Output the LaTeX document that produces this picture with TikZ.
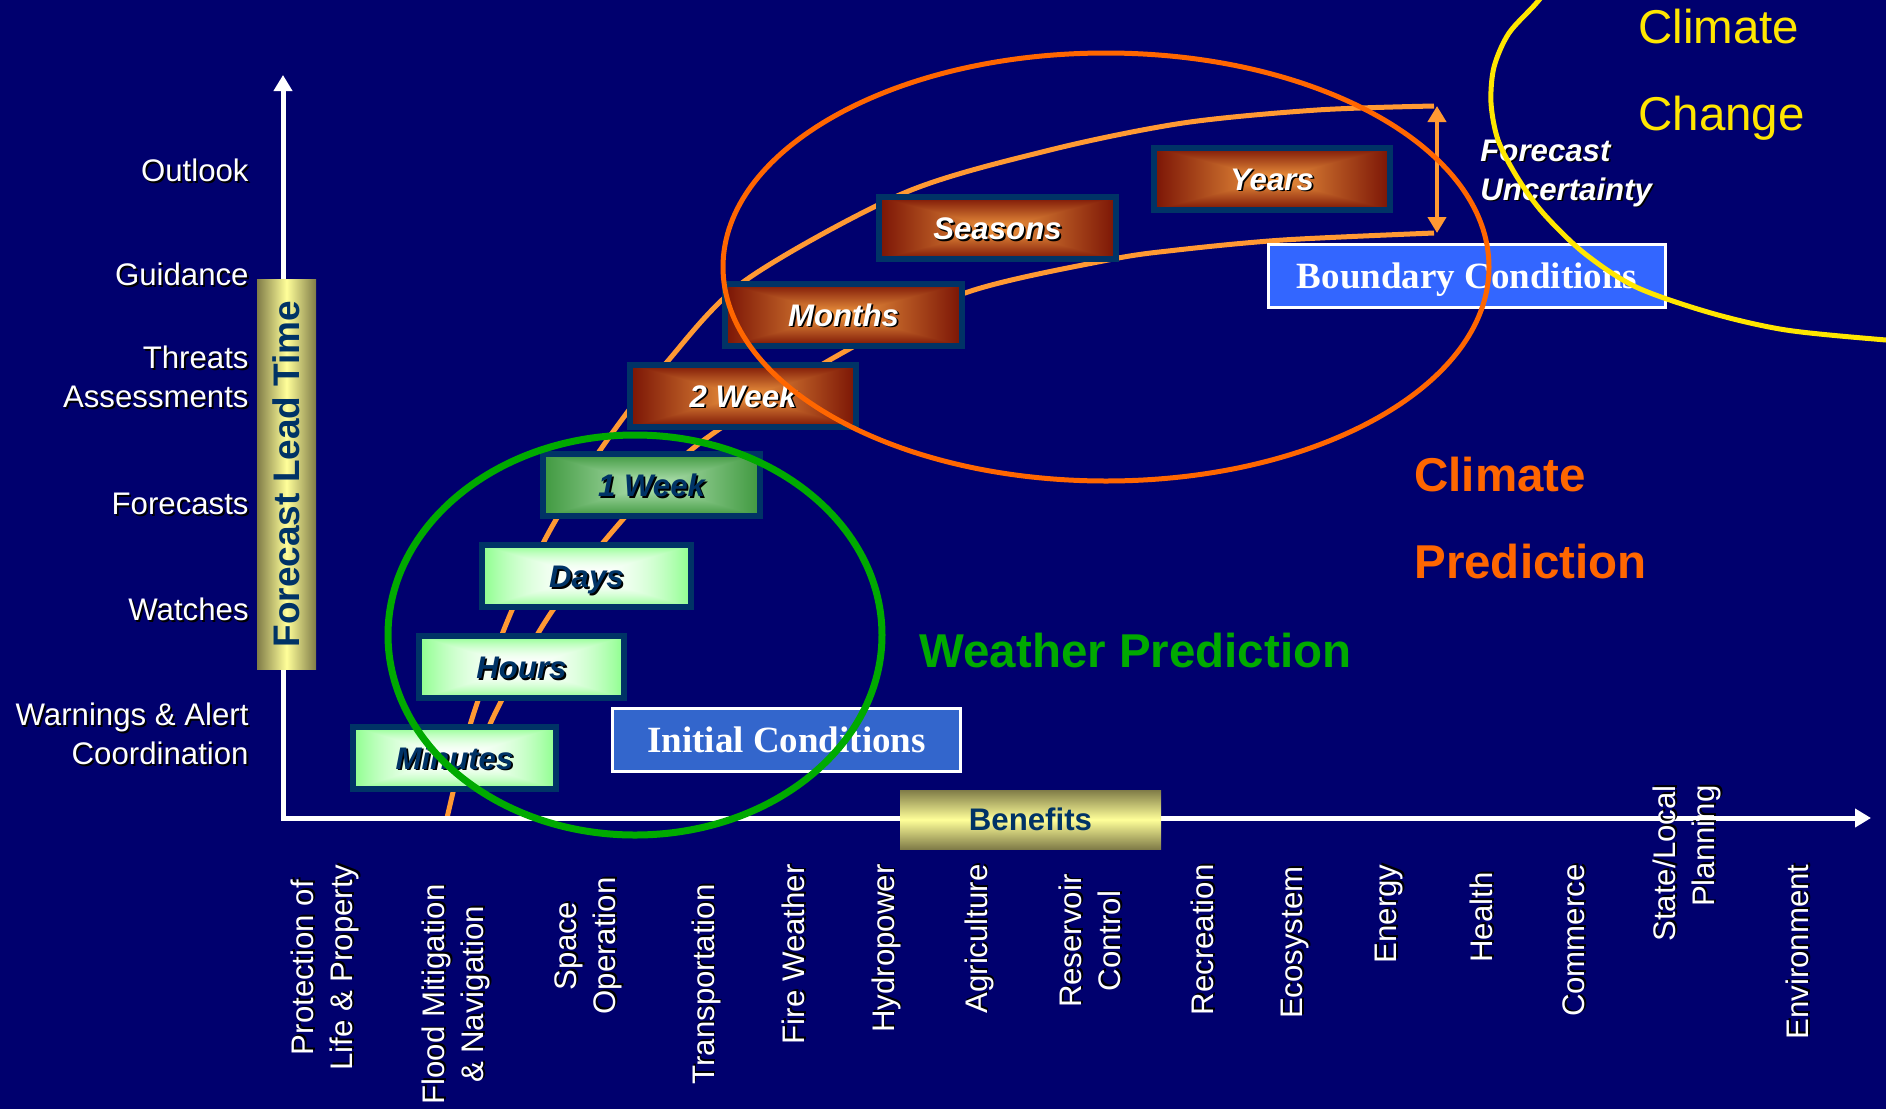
\documentclass[tikz,border=0pt]{standalone}
\usepackage{fontspec}
\setmainfont{Liberation Sans}
\newfontfamily\condfont{Liberation Serif}
\usetikzlibrary{positioning, arrows.meta}
\definecolor{navybg}{RGB}{0,0,110}
\definecolor{boxedge}{RGB}{0,51,102}
\definecolor{labelnavy}{RGB}{0,51,102}
\definecolor{bandorange}{RGB}{255,153,51}
\definecolor{climorange}{RGB}{255,102,0}
\definecolor{wxgreen}{RGB}{0,170,0}
\definecolor{ccyellow}{RGB}{255,230,0}
\definecolor{khaki}{RGB}{128,124,72}
\definecolor{paleyellow}{RGB}{255,255,153}
\definecolor{bcblue}{RGB}{51,102,255}
\definecolor{icblue}{RGB}{51,102,204}
\newcommand{\shd}[1]{\rlap{\kern0.9pt\raisebox{-0.9pt}{\color{black}#1}}#1}
\newcommand{\labfont}{\fontsize{15.6}{19.5}\selectfont}
\newcommand{\boxfont}{\fontsize{15.6}{19.5}\selectfont\bfseries\itshape}
\newcommand{\bigfont}{\fontsize{23.75}{28}\selectfont}
% box gradients, light in the middle, dark towards the rim
\pgfdeclarefunctionalshading{brownbox}{\pgfpoint{-50bp}{-50bp}}{\pgfpoint{50bp}{50bp}}{}{
  abs exch abs 2 copy sub abs 3 1 roll add add 2 div 25 div
  dup 1 sub abs neg 1 add add 2 div
  dup -0.47 mul 0.95 add exch
  dup -0.52 mul 0.60 add exch
  -0.23 mul 0.25 add
}
\pgfdeclarefunctionalshading{weekbox}{\pgfpoint{-50bp}{-50bp}}{\pgfpoint{50bp}{50bp}}{}{
  abs exch abs 2 copy sub abs 3 1 roll add add 2 div 25 div
  dup 1 sub abs neg 1 add add 2 div
  dup -0.47 mul 0.72 add exch
  dup -0.30 mul 0.90 add exch
  -0.47 mul 0.72 add
}
\pgfdeclarefunctionalshading{mintbox}{\pgfpoint{-50bp}{-50bp}}{\pgfpoint{50bp}{50bp}}{}{
  abs exch abs 2 copy sub abs 3 1 roll add add 2 div 25 div
  dup 1 sub abs neg 1 add add 2 div
  dup mul
  dup -0.45 mul 1 add exch
  1 exch
  -0.45 mul 1 add
}
\tikzset{
  ylab/.style={anchor=east, align=right, text=white, font=\labfont, inner sep=0pt},
  xlab/.style={rotate=90, anchor=east, align=center, text=white, font=\labfont, inner sep=0pt},
  lead box/.style={draw=boxedge, line width=3pt, minimum height=31pt, inner sep=0pt,
    text height=11.5pt, text depth=0pt, font=\boxfont},
  mint box/.style={lead box, shading=mintbox, text=labelnavy},
  week box/.style={lead box, shading=weekbox, text=labelnavy},
  brown box/.style={lead box, shading=brownbox, text=white},
  cond box/.style={draw=white, line width=1.5pt, minimum height=31.5pt, inner sep=0pt,
    text height=12.5pt, text depth=0pt,
    text=white, font=\condfont\bfseries\fontsize{18.5}{22}\selectfont},
  band/.style={bandorange, line width=2.5pt},
  axis line/.style={white, line width=2.5pt, line cap=rect, -{Triangle[width=9pt,length=8pt]}},
}

\begin{document}
\begin{tikzpicture}[x=0.5pt, y=-0.5pt]

\fill[navybg] (0,0) rectangle (1886,1109);
\useasboundingbox (0,0) rectangle (1886,1109);
\begin{scope}
\clip (0,0) rectangle (1886,1109);

% the forecast band
\draw[band] plot[smooth] coordinates {(447,818) (471,722) (507,622) (549,532)
  (603,446) (667,362) (746,280) (904,193) (1050,150) (1183,123) (1317,110) (1434,106)};
\draw[band] plot[smooth] coordinates {(478,770) (491,722) (545,622) (612,532)
  (696,446) (835,357) (965,293) (1108,260) (1177,250) (1283,240) (1434,233)};
\coordinate (unc hi) at (1437,106);
\coordinate (unc lo) at (1437,233);
\draw[band, line width=2pt, {Triangle[width=9pt,length=8pt]}-{Triangle[width=9pt,length=8pt]}]
  (unc hi) -- (unc lo);

% axes
\coordinate (origin) at (283,818);
\coordinate (ytop) at (283,75);
\coordinate (xend) at (1871,818);
\draw[axis line] (origin) -- (ytop);
\draw[axis line] (origin) -- (xend);

\node[minimum width=29.5pt, minimum height=195pt, inner sep=0pt,
  left color=khaki, right color=khaki, middle color=paleyellow,
  text=labelnavy, font=\fontsize{18.5}{22}\selectfont\bfseries]
  (leadbar) at (286.5,474) {\rotatebox{90}{Forecast Lead Time}};
\node[minimum width=130.5pt, minimum height=29.5pt, inner sep=0pt,
  top color=khaki, bottom color=khaki, middle color=paleyellow,
  text=labelnavy, font=\labfont\bfseries]
  (benefits) at (1030.5,819.5) {Benefits};

% lead time boxes
\node[mint box, minimum width=101.5pt] (minutes) at (454.5,757.5) {\shd{Minutes}};
\node[mint box, minimum width=102.5pt] (hours) at (521.5,667) {\shd{Hours}};
\node[mint box, minimum width=104.5pt] (days) at (586.5,576) {\shd{Days}};
\node[week box, minimum width=108.5pt] (week1) at (651.5,485) {\shd{1 Week}};
\node[brown box, minimum width=113pt] (week2) at (743,395.5) {\shd{2 Week}};
\node[brown box, minimum width=118.5pt] (months) at (843.5,314.5) {\shd{Months}};
\node[brown box, minimum width=118.5pt] (seasons) at (997.5,228) {\shd{Seasons}};
\node[brown box, minimum width=118pt] (years) at (1272,178.5) {\shd{Years}};

\node[cond box, fill=icblue, minimum width=174pt] (initial) at (786.5,740) {Initial Conditions};
\node[cond box, fill=bcblue, minimum width=198.5pt] (boundary) at (1467,276) {Boundary Conditions};

% lead time labels
\node[ylab] (outlook) at (249,171) {\shd{Outlook}};
\node[ylab] (guidance) at (249,275) {\shd{Guidance}};
\node[ylab] (threats) at (249,378) {\shd{Threats}\\\shd{Assessments}};
\node[ylab] (forecasts) at (249,505) {\shd{Forecasts}};
\node[ylab] (watches) at (249,610) {\shd{Watches}};
\node[ylab] (warnings) at (249,735) {\shd{Warnings \& Alert}\\\shd{Coordination}};

% benefit labels
\node[xlab] (protect) at (326,864) {\shd{Protection of}\\\shd{Life \& Property}};
\node[xlab] (flood) at (457,884) {\shd{Flood Mitigation}\\\shd{\& Navigation}};
\node[xlab] (space) at (589,877) {\shd{Space}\\\shd{Operation}};
\node[xlab] (reservoir) at (1091,874) {\shd{Reservoir}\\\shd{Control}};
\node[xlab, align=right] (statelocal) at (1688,785) {\shd{State/Local}\\\shd{Planning}};
\foreach \x/\y/\lab/\nm in {707/884/Transportation/transp, 794/864/Fire Weather/firewx,
    887/864/Hydropower/hydro, 980/864/Agriculture/agri, 1203/864/Recreation/recr,
    1296/866/Ecosystem/eco, 1390/864/Energy/energy, 1482/872/Health/health,
    1575/864/Commerce/comm, 1798/864/Environment/env} %single line
  \node[xlab] (\nm) at (\x,\y) {\shd{\lab}};

% zone captions
\node[anchor=west, align=left, text=white, font=\boxfont, inner sep=0pt]
  (uncert) at (1480,174) {\shd{Forecast}\\\shd{Uncertainty}};
\node[anchor=base west, text=ccyellow, font=\bigfont, inner sep=0pt] (cc top) at (1638,43) {Climate};
\node[anchor=base west, text=ccyellow, font=\bigfont, inner sep=0pt] (cc bottom) at (1638,130) {Change};
\node[anchor=base west, text=climorange, font=\bigfont\bfseries, inner sep=0pt] (cp top) at (1414,491) {Climate};
\node[anchor=base west, text=climorange, font=\bigfont\bfseries, inner sep=0pt] (cp bottom) at (1414,578) {Prediction};
\node[anchor=base west, text=wxgreen, font=\bigfont\bfseries, inner sep=0pt] (wp) at (919,667) {Weather Prediction};

% zones
\draw[wxgreen, line width=3.5pt] (635,635) ellipse [x radius=123.5pt, y radius=100pt];
\draw[climorange, line width=2.5pt] (1106,267) ellipse [x radius=191.5pt, y radius=107pt];
\draw[ccyellow, line width=2.5pt] plot[smooth] coordinates {(1568,-40) (1539,0) (1509,33)
  (1494,67) (1491,103) (1498,140) (1517,177) (1543,213) (1584,253) (1636,287)
  (1711,313) (1786,330) (1886,340) (1950,344)};
\end{scope}

\end{tikzpicture}
\end{document}
